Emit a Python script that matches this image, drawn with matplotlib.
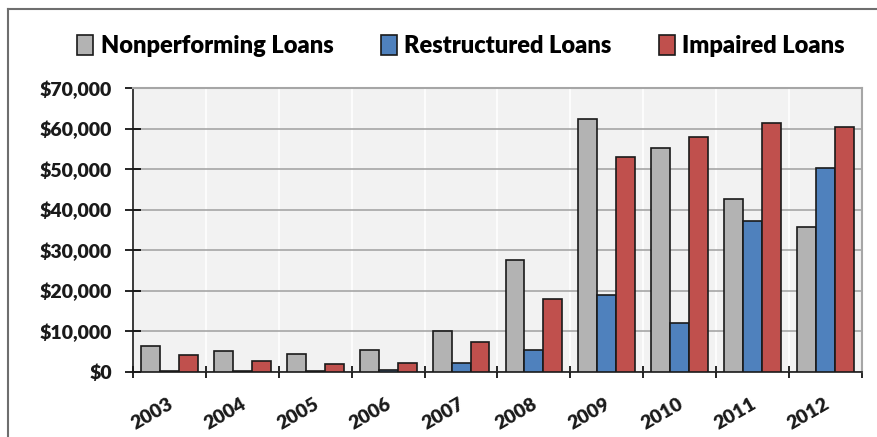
import numpy as np
import matplotlib
matplotlib.use('Agg')
from matplotlib import pyplot as plt
from matplotlib.lines import Line2D
from matplotlib.ticker import FuncFormatter

years = ['2003', '2004', '2005', '2006', '2007', '2008', '2009', '2010', '2011', '2012']
nonperforming = [6400, 5100, 4500, 5400, 10200, 27600, 62400, 55300, 42700, 35800]
restructured = [300, 300, 300, 600, 2100, 5400, 19100, 12200, 37100, 50200]
impaired = [4100, 2700, 2000, 2300, 7500, 18100, 52900, 58000, 61400, 60400]

series = ['Nonperforming Loans', 'Restructured Loans', 'Impaired Loans']
colors = ['#B3B3B3', '#4F81BD', '#C0504D']

plt.rcParams['font.family'] = ['Lato', 'DejaVu Sans']
plt.rcParams['font.weight'] = 'bold'

fig = plt.figure(figsize=(8.78, 4.37), dpi=100)
# outer chart border (only top and left visible in the crop)
fig.lines.append(Line2D([8 / 878, 8 / 878], [0, 1 - 8.5 / 437], transform=fig.transFigure,
                        color='#6E6E6E', linewidth=1.5))
fig.lines.append(Line2D([8 / 878, 1], [1 - 8.5 / 437, 1 - 8.5 / 437], transform=fig.transFigure,
                        color='#6E6E6E', linewidth=1.5))

ax = fig.add_axes([133 / 878, 65 / 437, 729 / 878, 284 / 437])
ax.set_facecolor('#F2F2F2')

x = np.arange(len(years))
w = 0.26
data = [nonperforming, restructured, impaired]
for i, (vals, c, name) in enumerate(zip(data, colors, series)):
    ax.bar(x + (i - 1) * w, vals, w, color=c, edgecolor='#1A1A1A',
           linewidth=1.2, label=name, zorder=3)

ax.set_xlim(-0.5, len(years) - 0.5)
ax.set_ylim(0, 70000)
ax.set_yticks(np.arange(0, 70001, 10000))
ax.yaxis.set_major_formatter(FuncFormatter(lambda v, p: '${:,.0f}'.format(v)))
ax.yaxis.grid(True, color='#A6A6A6', linewidth=1.2, zorder=1)

# category boundaries
ax.set_xticks(np.arange(-0.5, len(years), 1))
ax.set_xticklabels([])
ax.xaxis.grid(True, color='white', linewidth=1.2, zorder=1)
ax.set_xticks(x - 0.03, minor=True)
ax.set_xticklabels(years, minor=True, rotation=30, fontsize=14,
                   fontweight='heavy', color='#1A1A1A',
                   ha='right', va='top', rotation_mode='anchor')
ax.tick_params(axis='x', which='minor', length=0, pad=17)
ax.tick_params(axis='x', which='major', direction='inout', length=9, width=1.2)
ax.tick_params(axis='y', direction='inout', length=12, width=1.2,
               labelsize=14, labelcolor='#1A1A1A', pad=9)
for lab in ax.get_yticklabels():
    lab.set_fontweight('heavy')

ax.spines['left'].set_color('#1A1A1A')
ax.spines['bottom'].set_color('#1A1A1A')
ax.spines['left'].set_linewidth(1.2)
ax.spines['bottom'].set_linewidth(1.2)
ax.spines['top'].set_color('#A6A6A6')
ax.spines['right'].set_color('#A6A6A6')
ax.spines['top'].set_linewidth(1.5)
ax.spines['right'].set_linewidth(1.5)

fig.legend(loc='center', bbox_to_anchor=(0.525, 0.895), ncol=3, frameon=False,
           handlelength=0.7, handleheight=0.9, columnspacing=2.0,
           handletextpad=0.3, prop={'weight': 'heavy', 'size': 17})

fig.savefig('out.png', dpi=100)
